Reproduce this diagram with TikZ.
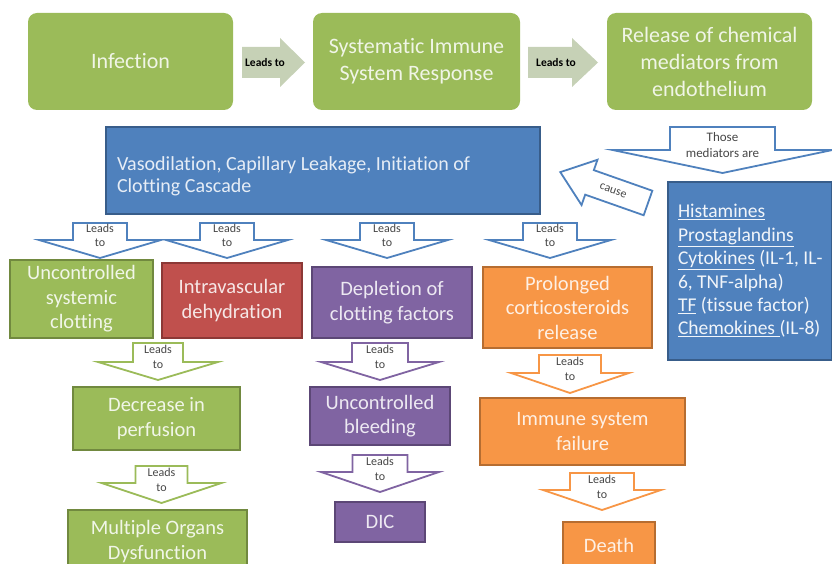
\documentclass[tikz,border=0pt]{standalone}
\usepackage{fontspec}
\setmainfont{Carlito}[Ligatures=NoCommon]
\definecolor{offgreen}{RGB}{155,187,89}
\definecolor{offgreenline}{RGB}{113,137,63}
\definecolor{offblue}{RGB}{79,129,189}
\definecolor{offblueline}{RGB}{56,93,138}
\definecolor{offred}{RGB}{192,80,77}
\definecolor{offredline}{RGB}{140,56,54}
\definecolor{offpurple}{RGB}{128,100,162}
\definecolor{offpurpleline}{RGB}{92,71,118}
\definecolor{offorange}{RGB}{247,150,70}
\definecolor{offorangeline}{RGB}{182,109,49}
\definecolor{leadgray}{RGB}{198,209,182}
\newcommand{\boxfont}{\fontsize{20.5}{24.5}\selectfont}

\tikzset{
  ashaft/.store in=\ashaft, ahead/.store in=\ahead, ahlen/.store in=\ahlen,
  alen/.store in=\alen, apos/.store in=\apos, arot/.store in=\arot,
  ashaft=27, ahead=61, ahlen=18, alen=35, apos=12.5, arot=0,
  pics/blk/.style={code={
    \path[pic actions] (0,-\ashaft) -- ({\alen-\ahlen},-\ashaft) -- ({\alen-\ahlen},-\ahead)
      -- (\alen,0) -- ({\alen-\ahlen},\ahead) -- ({\alen-\ahlen},\ashaft) -- (0,\ashaft) -- cycle;
    \node[lbl, rotate=\arot] (-t) at (\apos,0) {#1};
  }}
}

\begin{document}
\begin{tikzpicture}[x=1pt, y=-1pt,
  box/.style={draw=#1line, fill=#1, line width=1.6pt, text=white!86!#1, align=center, inner sep=2pt, font=\boxfont},
  topbox/.style={fill=offgreen, rounded corners=9pt, text=white!85!offgreen, align=center,
    minimum width=205pt, minimum height=97pt, font=\fontsize{22}{27}\selectfont},
  lbl/.style={inner sep=0pt, align=center, text=black!72, font=\fontsize{12}{14.5}\selectfont},
  lead/.style={draw=#1, fill=white, line width=1.8pt, rotate=-90},
  toplead/.style={fill=leadgray, ashaft=15.5, ahead=24.5,
    lbl/.append style={text=black, font=\bfseries\fontsize{11.5}{13}\selectfont}}
]
\useasboundingbox (0,0) rectangle (832,564);
\clip (0,0) rectangle (832,564);

% top row
\node[topbox] (infection) at (130.5,61.5) {Infection};
\node[topbox, minimum width=207pt] (immune) at (416.5,61.5) {Systematic Immune\\System Response};
\node[topbox] (release) at (709.5,61.5) {Release of chemical\\mediators from\\endothelium};
\pic[toplead, ahlen=25, alen=63, apos=23] (lt1) at (242,62.5) {blk=Leads to};
\pic[toplead, ahlen=26, alen=70, apos=28] (lt2) at (528,62.5) {blk=Leads to};

% effects and mediators
\node[box=offblue, minimum width=434pt, minimum height=87pt, text width=412pt, inner xsep=11pt,
  align=flush left, font=\fontsize{20}{22.5}\selectfont] (vaso) at (323,170.5)
  {\rule{0pt}{25pt}Vasodilation, Capillary Leakage, Initiation of\\Clotting Cascade};
\node[box=offblue, minimum width=164pt, minimum height=178pt, text width=144pt, inner xsep=10pt,
  align=flush left, text=white!92!offblue, font=\fontsize{19.5}{23.4}\selectfont] (medlist) at (750,271)
  {\mbox{\underline{Histamines}}\\\mbox{\underline{Prostaglandins}}\\\mbox{\underline{Cytokines} (IL-1, IL-}\\
   \mbox{6, TNF-alpha)}\\\mbox{\underline{TF} (tissue factor)}\\\mbox{\underline{Chemokines\ }(IL-8)}};
\pic[lead=offblue, ashaft=52.5, ahead=110, ahlen=23, alen=46, apos=18,
  lbl/.append style={font=\fontsize{13}{16}\selectfont}] (those) at (722.5,127) {blk={Those\\mediators are}};
\pic[draw=offblue, fill=white, line width=1.8pt, rotate=160.6, ashaft=13, ahead=24, ahlen=31,
  alen=93, apos=37, arot=-19.4] (cause) at (648,203) {blk=cause};

% second row
\node[box=offgreen, minimum width=143pt, minimum height=78pt] (clotting) at (81.5,299) {Uncontrolled\\systemic\\clotting};
\node[box=offred, minimum width=140pt, minimum height=75pt] (dehydr) at (232,300.5) {Intravascular\\dehydration};
\node[box=offpurple, minimum width=160pt, minimum height=71pt] (depletion) at (392,302.5) {Depletion of\\clotting factors};
\node[box=offorange, minimum width=169pt, minimum height=81pt] (cortico) at (567.5,307.5) {Prolonged\\corticosteroids\\release};
\pic[lead=offblue] (l1) at (100,223) {blk={Leads\\to}};
\pic[lead=offblue] (l2) at (227,223) {blk={Leads\\to}};
\pic[lead=offblue] (l3) at (387,223) {blk={Leads\\to}};
\pic[lead=offblue] (l4) at (550,223) {blk={Leads\\to}};

% consequences
\node[box=offgreen, minimum width=167pt, minimum height=63pt] (perfusion) at (156.5,418.5) {Decrease in\\perfusion};
\node[box=offgreen, minimum width=179pt, minimum height=63pt] (organs) at (157.5,541.5) {Multiple Organs\\Dysfunction};
\node[box=offpurple, minimum width=140pt, minimum height=58pt] (bleeding) at (380,416) {Uncontrolled\\bleeding};
\node[box=offpurple, minimum width=90pt, minimum height=40pt] (dic) at (380,522) {DIC};
\node[box=offorange, minimum width=205pt, minimum height=67pt] (immfail) at (582.5,431.5) {Immune system\\failure};
\node[box=offorange, minimum width=92pt, minimum height=46pt] (death) at (609,545) {Death};
\pic[lead=offgreen, ashaft=25, ahead=60, alen=37, apos=14] (l5) at (158,343) {blk={Leads\\to}};
\pic[lead=offgreen, ashaft=26, ahead=60, ahlen=20, alen=37, apos=14] (l6) at (161.5,466) {blk={Leads\\to}};
\pic[lead=offpurple, ashaft=28, ahead=59, alen=37, apos=14] (l7) at (380,343) {blk={Leads\\to}};
\pic[lead=offpurple, ashaft=27.5, ahead=59, ahlen=20, alen=37, apos=14] (l8) at (380,455) {blk={Leads\\to}};
\pic[lead=offorange, ashaft=31, ahead=59, ahlen=20, alen=38, apos=14] (l9) at (570,355) {blk={Leads\\to}};
\pic[lead=offorange, ashaft=32, ahead=59, ahlen=20, alen=37, apos=14] (l10) at (602,473) {blk={Leads\\to}};
\end{tikzpicture}
\end{document}
